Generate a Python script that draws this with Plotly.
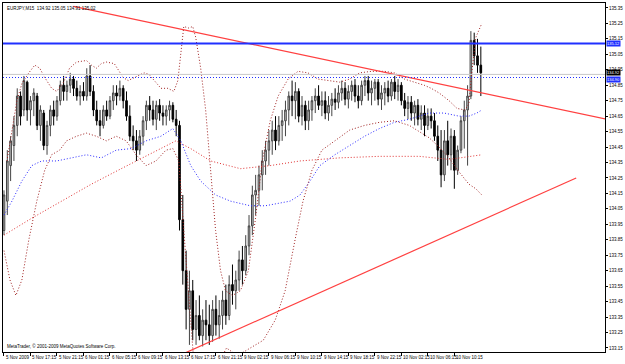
import plotly.graph_objects as go

title_text = "EURJPY,M15  134.92 135.05 134.91 135.02"
copyright_text = "MetaTrader, \u00a9 2001-2009 MetaQuotes Software Corp."

bar_open = [133.91,134.10,134.33,134.46,134.59,134.78,134.69,134.87,134.69,134.75,
            134.78,134.59,134.67,134.46,134.59,134.69,134.65,134.75,134.85,134.81,
            134.85,134.89,134.83,134.78,134.81,134.78,134.91,134.81,134.69,134.62,
            134.59,134.69,134.65,134.75,134.80,134.78,134.83,134.75,134.65,134.52,
            134.49,134.43,134.52,134.62,134.72,134.69,134.63,134.72,134.67,134.65,
            134.69,134.72,134.63,134.59,133.98,133.65,133.40,133.52,133.27,133.36,
            133.23,133.33,133.30,133.23,133.40,133.30,133.36,133.46,133.36,133.56,
            133.52,133.59,133.72,133.65,133.81,133.94,134.14,134.17,134.27,134.36,
            134.43,134.49,134.56,134.49,134.59,134.62,134.69,134.78,134.75,134.81,
            134.65,134.72,134.62,134.69,134.75,134.78,134.72,134.75,134.67,134.72,
            134.76,134.74,134.80,134.83,134.76,134.81,134.85,134.78,134.75,134.85,
            134.88,134.80,134.83,134.87,134.76,134.80,134.83,134.78,134.87,134.81,
            134.85,134.75,134.70,134.74,134.67,134.72,134.63,134.67,134.59,134.65,
            134.62,134.52,134.43,134.27,134.49,134.40,134.52,134.30,134.43,134.62,
            134.69,134.78,135.14,135.04,134.98]
bar_high = [134.17,134.43,134.52,134.65,134.83,134.81,134.91,134.88,134.78,134.83,
            134.80,134.72,134.69,134.62,134.72,134.75,134.78,134.88,134.91,134.88,
            134.93,134.91,134.88,134.85,134.87,134.96,134.98,134.85,134.75,134.69,
            134.72,134.75,134.78,134.85,134.85,134.88,134.85,134.81,134.72,134.59,
            134.56,134.56,134.65,134.75,134.78,134.75,134.75,134.76,134.72,134.72,
            134.75,134.74,134.69,134.62,134.14,133.78,133.65,133.59,133.46,133.49,
            133.40,133.46,133.43,133.46,133.49,133.46,133.52,133.56,133.62,133.69,
            133.65,133.78,133.81,133.88,134.01,134.20,134.27,134.33,134.43,134.49,
            134.56,134.62,134.65,134.65,134.69,134.75,134.81,134.88,134.87,134.83,
            134.78,134.75,134.75,134.78,134.83,134.85,134.81,134.81,134.78,134.80,
            134.83,134.85,134.88,134.87,134.85,134.88,134.89,134.85,134.88,134.91,
            134.91,134.88,134.89,134.89,134.85,134.87,134.88,134.89,134.91,134.89,
            134.87,134.80,134.78,134.78,134.75,134.76,134.72,134.72,134.70,134.70,
            134.67,134.59,134.56,134.56,134.62,134.57,134.56,134.46,134.65,134.75,
            134.85,135.20,135.19,135.15,135.10]
bar_low = [133.88,134.01,134.23,134.36,134.52,134.59,134.65,134.62,134.59,134.65,
           134.56,134.49,134.43,134.40,134.52,134.59,134.62,134.72,134.75,134.75,
           134.80,134.78,134.75,134.72,134.75,134.75,134.78,134.65,134.59,134.52,
           134.57,134.62,134.63,134.69,134.72,134.75,134.70,134.62,134.49,134.43,
           134.36,134.40,134.46,134.56,134.62,134.59,134.56,134.62,134.59,134.59,
           134.62,134.61,134.52,133.91,133.56,133.27,133.17,133.20,133.17,133.20,
           133.16,133.20,133.17,133.19,133.23,133.21,133.27,133.30,133.33,133.43,
           133.40,133.52,133.56,133.62,133.75,133.88,134.01,134.07,134.17,134.27,
           134.33,134.40,134.43,134.46,134.49,134.52,134.59,134.65,134.63,134.61,
           134.59,134.56,134.56,134.62,134.67,134.69,134.65,134.63,134.62,134.65,
           134.69,134.70,134.75,134.72,134.70,134.75,134.74,134.70,134.72,134.78,
           134.75,134.72,134.75,134.72,134.69,134.72,134.74,134.75,134.76,134.75,
           134.72,134.65,134.63,134.62,134.59,134.59,134.56,134.52,134.56,134.57,
           134.49,134.36,134.19,134.23,134.33,134.30,134.18,134.27,134.41,134.44,
           134.33,134.76,134.98,134.93,134.78]
bar_close = [134.14,134.36,134.49,134.59,134.78,134.65,134.88,134.69,134.75,134.80,
             134.59,134.69,134.46,134.59,134.69,134.65,134.75,134.85,134.81,134.85,
             134.89,134.83,134.78,134.81,134.78,134.91,134.81,134.69,134.62,134.59,
             134.69,134.65,134.75,134.80,134.78,134.83,134.75,134.65,134.52,134.49,
             134.43,134.52,134.62,134.72,134.69,134.63,134.72,134.67,134.65,134.69,
             134.72,134.63,134.59,133.98,133.65,133.40,133.52,133.27,133.36,133.23,
             133.33,133.30,133.23,133.40,133.30,133.36,133.46,133.36,133.56,133.52,
             133.59,133.72,133.65,133.81,133.94,134.14,134.17,134.27,134.36,134.43,
             134.49,134.56,134.49,134.59,134.62,134.69,134.78,134.75,134.81,134.65,
             134.72,134.62,134.69,134.75,134.78,134.72,134.75,134.67,134.72,134.76,
             134.74,134.80,134.83,134.76,134.81,134.85,134.78,134.75,134.85,134.88,
             134.80,134.83,134.87,134.76,134.80,134.83,134.78,134.87,134.81,134.85,
             134.75,134.70,134.74,134.67,134.72,134.63,134.67,134.59,134.65,134.62,
             134.52,134.43,134.27,134.49,134.40,134.52,134.30,134.43,134.62,134.69,
             134.78,135.14,135.04,134.98,134.93]

band_x_up = [0.9,2.4,3.9,5.4,7.5,9.3,10.8,12.3,14.4,15.9,18,19.8,21.9,24.9,26.4,27.9,29.4,30.9,33.3,34.8,
             36,37.5,39.3,42.3,43.8,45.3,47.4,49.5,51.3,52.5,53.4,54.3,55.8,57,57.9,59.4,60.9,62.4,63.9,65.4,
             66.9,69,71.4,73.8,75.9,78,80.4,82.8,85.8,88.8,91.8,94.8,98.4,101.4,104.4,107.4,111,114.9,117.9,120.9,
             123.9,126.9,129,131.4,134.4,136.8,139.2,140.4,141.3,142.5,144.3]
band_upper = [134.36,134.56,134.75,134.86,134.93,134.98,134.96,134.90,134.83,134.81,134.87,134.96,135.00,135.01,134.98,134.96,134.99,135.00,134.99,134.94,
              134.90,134.88,134.90,134.93,134.92,134.88,134.83,134.83,134.81,134.88,135.07,135.23,135.22,135.23,135.16,134.96,134.69,134.30,133.91,133.65,
              133.52,133.49,133.52,133.65,133.98,134.36,134.62,134.78,134.89,134.94,134.93,134.89,134.88,134.87,134.89,134.93,134.94,134.94,134.93,134.89,
              134.87,134.85,134.83,134.80,134.75,134.70,134.69,134.73,134.94,135.16,135.25]
band_x_low = [0,1.8,3.6,5.4,7.5,9.9,12.3,14.4,16.8,18.9,21.9,24.9,27.9,30.9,33.9,36.9,39.9,42.9,45.9,48.9,
              51,52.8,54.3,55.8,57.3,59.4,62.4,63.9,66,67.2,69,70.5,74.4,78.3,81.9,84.9,87.9,90.3,93,96,
              99.9,104.4,108.9,113.4,117.9,122.4,128.4,131.4,134.4,137.4,140.4,142.5,144.3]
band_lower = [133.78,133.59,133.49,133.59,133.85,134.10,134.30,134.40,134.43,134.49,134.52,134.54,134.52,134.49,134.52,134.49,134.40,134.33,134.36,134.43,
              134.44,134.36,133.91,133.46,133.07,132.69,132.56,132.82,133.10,133.15,133.12,133.10,133.15,133.20,133.33,133.52,133.85,134.10,134.30,134.43,
              134.49,134.56,134.59,134.61,134.62,134.59,134.51,134.45,134.38,134.29,134.21,134.18,134.14]
ma_blue_x = [0,2.4,5.4,8.4,11.4,15.9,20.4,24.9,29.4,33.9,38.4,42.9,47.4,51,53.4,56.4,59.4,63.9,68.4,74.4,
             78.9,83.4,86.4,89.4,92.4,95.4,99.9,104.4,108.9,113.4,117.9,122.4,125.4,128.4,132.9,137.4,140.4,142.8,144.3]
ma_blue = [134.01,134.10,134.23,134.33,134.36,134.36,134.38,134.40,134.38,134.43,134.44,134.49,134.52,134.57,134.49,134.33,134.23,134.14,134.10,134.07,
           134.07,134.09,134.10,134.14,134.23,134.33,134.40,134.46,134.52,134.57,134.61,134.63,134.65,134.67,134.67,134.65,134.65,134.67,134.69]
ma_red_x = [0,8.4,17.4,26.4,35.4,44.4,51.9,56.4,62.4,71.4,80.4,89.4,101.4,113.4,125.4,134.4,144.3]
ma_red = [133.88,133.99,134.10,134.21,134.31,134.41,134.49,134.44,134.36,134.31,134.33,134.36,134.38,134.39,134.39,134.37,134.40]

trend1_x = [21, 182]
trend1_y = [135.36, 134.63]
trend2_x = [54.9, 172.8]
trend2_y = [133.12, 134.25]

level_blue = 135.12
level_blue_dot = 134.90
bid = 134.92

x_tick_idx = [0,8,16,24,32,40,48,56,64,72,80,88,96,104,112,120,128,136]
x_tick_text = ["5 Nov 2009","5 Nov 17:15","5 Nov 21:15","6 Nov 01:15","6 Nov 05:15","6 Nov 09:15",
               "6 Nov 13:15","6 Nov 17:15","6 Nov 21:15","9 Nov 02:15","9 Nov 06:15","9 Nov 10:15",
               "9 Nov 14:15","9 Nov 18:15","9 Nov 22:15","10 Nov 02:15","10 Nov 06:15","10 Nov 10:15"]
y_ticks = [round(133.15 + 0.1 * k, 2) for k in range(23)]

idx = list(range(len(bar_close)))
DOT = "1px,2px"
FONT = "Liberation Sans Narrow, Liberation Sans, Arial"

fig = go.Figure()
fig.add_trace(go.Scatter(x=ma_red_x, y=ma_red, mode="lines", line=dict(color="#e03030", width=1, dash=DOT), hoverinfo="skip"))
fig.add_trace(go.Scatter(x=ma_blue_x, y=ma_blue, mode="lines", line=dict(color="#2a2aff", width=1, dash=DOT), hoverinfo="skip"))
fig.add_trace(go.Scatter(x=band_x_up, y=band_upper, mode="lines", line=dict(color="#a02020", width=1, dash=DOT), hoverinfo="skip"))
fig.add_trace(go.Scatter(x=band_x_low, y=band_lower, mode="lines", line=dict(color="#a02020", width=1, dash=DOT), hoverinfo="skip"))
fig.add_trace(go.Candlestick(x=idx, open=bar_open, high=bar_high, low=bar_low, close=bar_close,
                             increasing=dict(line=dict(color="#444444", width=1), fillcolor="#c8c8c8"),
                             decreasing=dict(line=dict(color="#000000", width=1), fillcolor="#000000"),
                             whiskerwidth=0))
fig.add_trace(go.Scatter(x=trend1_x, y=trend1_y, mode="lines", line=dict(color="#ff4040", width=1.2), hoverinfo="skip"))
fig.add_trace(go.Scatter(x=trend2_x, y=trend2_y, mode="lines", line=dict(color="#ff4040", width=1.2), hoverinfo="skip"))

shapes = [
    dict(type="line", xref="paper", x0=0, x1=1, yref="y", y0=bid, y1=bid, line=dict(color="#c8c8c8", width=1)),
    dict(type="line", xref="paper", x0=0, x1=1, yref="y", y0=level_blue, y1=level_blue, line=dict(color="#2030ff", width=2)),
    dict(type="line", xref="paper", x0=0, x1=1, yref="y", y0=level_blue_dot, y1=level_blue_dot, line=dict(color="#2030ff", width=1, dash=DOT)),
]

ann = []
for xi, t in zip(x_tick_idx, x_tick_text):
    ann.append(dict(x=xi, xref="x", y=0, yref="paper", yanchor="top", xanchor="left", text=t, showarrow=False,
                    xshift=0, yshift=-1, font=dict(size=4.5, color="#000000", family=FONT)))
ann.append(dict(x=0.003, xref="paper", y=1, yref="paper", yanchor="top", xanchor="left", text=title_text, showarrow=False,
                yshift=-1, font=dict(size=4.5, color="#000000", family=FONT)))
ann.append(dict(x=0.003, xref="paper", y=0, yref="paper", yanchor="bottom", xanchor="left", text=copyright_text, showarrow=False,
                yshift=1, font=dict(size=4.5, color="#000000", family=FONT)))
for val, bg, ys in [(level_blue, "#2030ff", 0), (bid, "#000000", 1.5), (level_blue_dot, "#2030ff", -1.5)]:
    ann.append(dict(x=1, xref="paper", y=val, yref="y", xanchor="left", yanchor="middle", text=f"{val:.2f}",
                    showarrow=False, bgcolor=bg, borderpad=0, xshift=1, yshift=ys,
                    font=dict(size=4, color="#ffffff", family=FONT)))

fig.update_layout(
    width=625, height=364, margin=dict(l=2, r=18, t=2, b=12),
    paper_bgcolor="#ffffff", plot_bgcolor="#ffffff", showlegend=False,
    shapes=shapes, annotations=ann,
    xaxis=dict(range=[-0.3, 181.5], rangeslider=dict(visible=False), showgrid=False, zeroline=False,
               tickvals=x_tick_idx, ticks="outside", ticklen=3, tickcolor="#000000", showticklabels=False,
               showline=True, linecolor="#000000", linewidth=1, mirror=True),
    yaxis=dict(range=[133.124, 135.382], side="right", showgrid=False, zeroline=False,
               tickvals=y_ticks, ticktext=[f"{v:.2f}" for v in y_ticks], ticks="outside", ticklen=2,
               tickcolor="#000000", tickfont=dict(size=4.5, color="#000000", family=FONT),
               showline=True, linecolor="#000000", linewidth=1, mirror=True),
)
fig.write_html("out.html")
